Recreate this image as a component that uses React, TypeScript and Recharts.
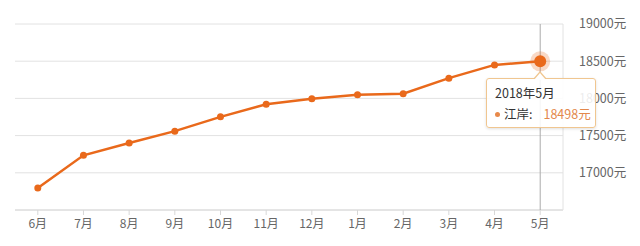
import { LineChart, Line, XAxis, YAxis, CartesianGrid, Tooltip } from "recharts";

const months = ["6月", "7月", "8月", "9月", "10月", "11月", "12月", "1月", "2月", "3月", "4月", "5月"];
const prices = [16795, 17235, 17400, 17560, 17752, 17920, 17995, 18050, 18062, 18272, 18450, 18498];
const yTicks = [17000, 17500, 18000, 18500, 19000];

const data = months.map((m, i) => ({ month: m, price: prices[i] }));

const ORANGE = "#e9691b";
const FONT = "'Noto Sans CJK SC', 'Noto Sans', sans-serif";

function PriceTip({ active, payload }: any) {
  if (!active || !payload || !payload.length) return null;
  const p = payload[0].payload;
  return (
    <div
      style={{
        position: "relative",
        width: 108,
        height: 48,
        border: "1px solid #f0c690",
        borderRadius: 3,
        background: "rgba(255,255,255,0.88)",
        boxShadow: "0 1px 3px rgba(0,0,0,0.12)",
        fontFamily: FONT,
        fontSize: 12.5,
        color: "#333",
      }}
    >
      <div style={{ position: "absolute", left: 46, top: -8, width: 0, height: 0, borderLeft: "7px solid transparent", borderRight: "7px solid transparent", borderBottom: "8px solid #f0c690" }} />
      <div style={{ position: "absolute", left: 47, top: -6, width: 0, height: 0, borderLeft: "6px solid transparent", borderRight: "6px solid transparent", borderBottom: "7px solid #fff" }} />
      <div style={{ position: "absolute", left: 8, top: 6, lineHeight: "16px" }}>2018年{p.month}</div>
      <div style={{ position: "absolute", left: 8, top: 27, lineHeight: "16px", display: "flex", alignItems: "center" }}>
        <span style={{ display: "inline-block", width: 5, height: 5, borderRadius: 3, background: "#e8894a", marginRight: 4 }} />
        <span>江岸:</span>
        <span style={{ color: "#e3884c", marginLeft: 11 }}>{p.price}元</span>
      </div>
    </div>
  );
}

function HaloDot(props: any) {
  const { cx, cy } = props;
  return (
    <g>
      <circle cx={cx} cy={cy} r={10} fill={ORANGE} fillOpacity={0.25} />
      <circle cx={cx} cy={cy} r={6} fill={ORANGE} />
    </g>
  );
}

export default function App() {
  return (
    <div style={{ position: "absolute", left: 0, top: 0, background: "#fff" }}>
      <LineChart width={640} height={246} data={data} margin={{ top: 24, right: 0, bottom: 6, left: 15 }}>
        <CartesianGrid horizontal vertical={false} stroke="#e2e2e2" />
        <XAxis
          dataKey="month"
          padding={{ left: 22.8, right: 22.8 }}
          axisLine={{ stroke: "#d8d8d8" }}
          tickLine={{ stroke: "#d8d8d8" }}
          tickSize={5}
          tickMargin={4}
          height={30}
          interval={0}
          tick={{ fill: "#666", fontSize: 12, fontFamily: FONT }}
        />
        <YAxis
          orientation="right"
          domain={[16500, 19000]}
          ticks={yTicks}
          width={77}
          axisLine={{ stroke: "#e2e2e2" }}
          tickLine={false}
          tickMargin={10}
          tickFormatter={(v: number) => v + "元"}
          tick={{ fill: "#666", fontSize: 12.5, fontFamily: FONT, textAnchor: "start" }}
        />
        <Tooltip
          defaultIndex={11}
          active
          content={<PriceTip />}
          position={{ x: 486, y: 78 }}
          cursor={{ stroke: "#aaa", strokeWidth: 1 }}
          wrapperStyle={{ outline: "none" }}
          isAnimationActive={false}
        />
        <Line
          type="linear"
          dataKey="price"
          stroke={ORANGE}
          strokeWidth={2.5}
          dot={{ r: 3.5, fill: ORANGE, stroke: ORANGE, strokeWidth: 0 }}
          activeDot={<HaloDot />}
          isAnimationActive={false}
        />
      </LineChart>
    </div>
  );
}
